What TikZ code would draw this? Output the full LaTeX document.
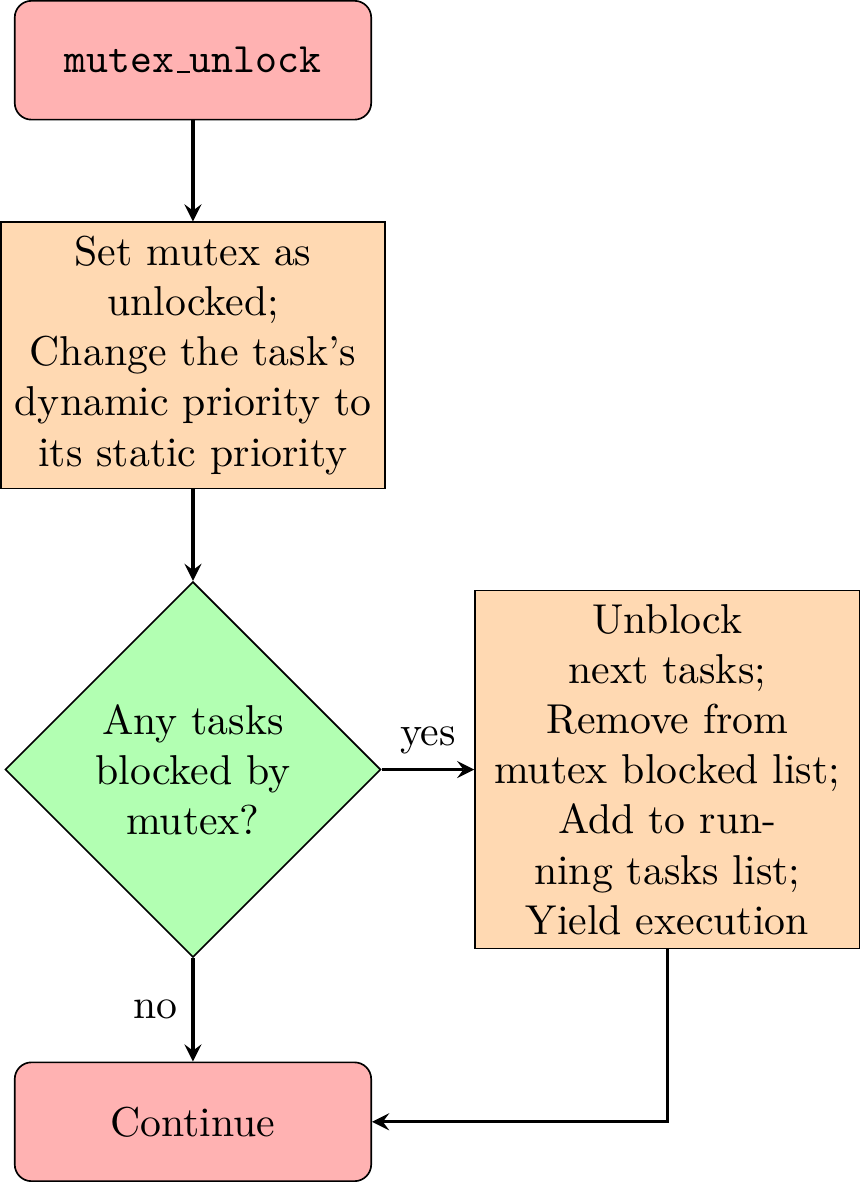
\documentclass[tikz,border=0pt]{standalone}
\usepackage{tikz}
\usetikzlibrary{arrows,shapes.geometric,positioning}
\tikzset{
  startstop/.style={rectangle,rounded corners,minimum width=3cm,minimum height=1cm,text centered,draw=black,fill=red!30},
  process/.style={rectangle,text width=3cm,text centered,draw=black,fill=orange!30},
  decision/.style={diamond,aspect=1,inner sep=3pt,align=center,draw=black,fill=green!30},
  arrow/.style={thick,->,>=stealth}
}
\begin{document}
\begin{tikzpicture}
  \node[startstop] (unlock) {\texttt{mutex\kern.06em\vbox{\hrule width.3em}unlock}};
  \node[process,below=8.5mm of unlock] (setunlocked) {Set mutex as\\unlocked;\\Change the task's\\dynamic priority to\\its static priority};
  \node[decision,below=7.7mm of setunlocked] (anyblocked) {Any tasks\\blocked by\\mutex?};
  \node[process,right=7.8mm of anyblocked] (unblock) {Unblock\\next tasks;\\Remove from\\mutex blocked list;\\Add to run-\\ning tasks list;\\Yield execution};
  \node[startstop,below=8.7mm of anyblocked] (continue) {Continue};
  \draw[arrow] (unlock) -- (setunlocked);
  \draw[arrow] (setunlocked) -- (anyblocked);
  \draw[arrow] (anyblocked) -- node[above] {yes} (unblock);
  \draw[arrow] (anyblocked) -- node[left] {no} (continue);
  \draw[arrow] (unblock) |- (continue);
\end{tikzpicture}
\end{document}
